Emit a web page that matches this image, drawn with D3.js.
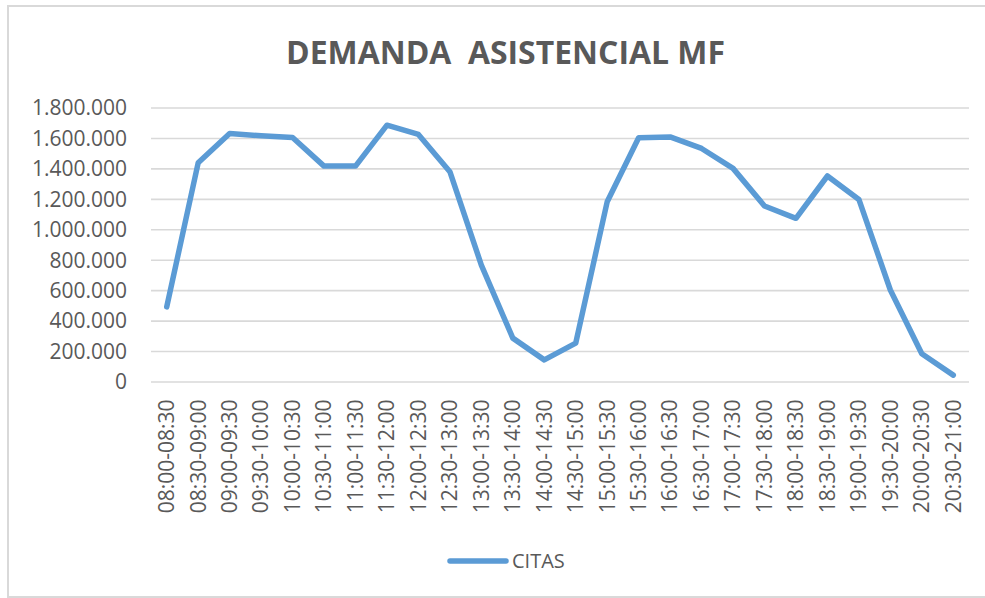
<!DOCTYPE html>
<html>
<head>
<meta charset="utf-8">
<script src="https://cdn.jsdelivr.net/npm/d3@7"></script>
<style>
  body { margin: 0; background: #fff; }
  svg text { font-family: "Open Sans", sans-serif; fill: #595959; }
</style>
</head>
<body>
<div id="chart"></div>
<script>
// franjas horarias
let franjas = [
    "08:00-08:30", "08:30-09:00", "09:00-09:30", "09:30-10:00", "10:00-10:30",
    "10:30-11:00", "11:00-11:30", "11:30-12:00", "12:00-12:30", "12:30-13:00",
    "13:00-13:30", "13:30-14:00", "14:00-14:30", "14:30-15:00", "15:00-15:30",
    "15:30-16:00", "16:00-16:30", "16:30-17:00", "17:00-17:30", "17:30-18:00",
    "18:00-18:30", "18:30-19:00", "19:00-19:30", "19:30-20:00", "20:00-20:30",
    "20:30-21:00"
];

// citas por franja
let citas = [
    490000, 1437000, 1629000, 1614000, 1603000,
    1415000, 1415000, 1684000, 1623000, 1378000,
    765000, 285000, 142000, 252000, 1181000,
    1601000, 1607000, 1531000, 1400000, 1153000,
    1072000, 1350000, 1196000, 601000, 182000,
    42000
];

let yTicks = [0, 200000, 400000, 600000, 800000, 1000000, 1200000, 1400000, 1600000, 1800000];

let width = 985, height = 598;
let margin = {top: 107.5, right: 16, bottom: 216.5, left: 151};

let svg = d3.select("#chart").append("svg")
    .attr("width", width)
    .attr("height", height);

// marco (el borde derecho queda fuera de la imagen)
svg.append("rect")
    .attr("x", 8).attr("y", 6)
    .attr("width", width).attr("height", height - 7)
    .attr("fill", "none")
    .attr("stroke", "#d9d9d9")
    .attr("stroke-width", 2);

svg.append("text")
    .attr("x", 286)
    .attr("y", 64)
    .attr("textLength", 439)
    .attr("lengthAdjust", "spacingAndGlyphs")
    .style("white-space", "pre")
    .style("font-size", "33px")
    .style("font-weight", "bold")
    .text("DEMANDA  ASISTENCIAL MF");

let x = d3.scaleBand()
    .domain(franjas)
    .range([margin.left, width - margin.right]);

let y = d3.scaleLinear()
    .domain([0, 1800000])
    .range([height - margin.bottom, margin.top]);

let fmt = d => d3.format(",")(d).replace(/,/g, ".");

let g = svg.append("g");

// rejilla
let yAxis = g.append("g")
    .attr("transform", "translate(" + margin.left + ",0)")
    .call(d3.axisLeft(y)
        .tickValues(yTicks)
        .tickFormat(fmt)
        .tickSize(-(width - margin.left - margin.right))
        .tickPadding(24));
yAxis.select(".domain").remove();
yAxis.selectAll(".tick line").attr("stroke", "#d9d9d9").attr("stroke-width", 1.6);
yAxis.selectAll(".tick text").style("font-size", "21px").attr("dy", "0.35em");

let xAxis = g.append("g")
    .attr("transform", "translate(0," + (height - margin.bottom) + ")")
    .call(d3.axisBottom(x).tickSize(0));
xAxis.select(".domain").remove();
xAxis.selectAll(".tick text")
    .style("font-size", "21px")
    .attr("transform", "rotate(-90)")
    .attr("text-anchor", "end")
    .attr("x", -18)
    .attr("y", 0)
    .attr("dy", "0.35em");

let line = d3.line()
    .x((d, i) => x(franjas[i]) + x.bandwidth() / 2)
    .y(d => y(d));

g.append("path")
    .datum(citas)
    .attr("fill", "none")
    .attr("stroke", "#5b9bd5")
    .attr("stroke-width", 5.5)
    .attr("stroke-linejoin", "round")
    .attr("stroke-linecap", "round")
    .attr("d", line);

// leyenda
let leg = svg.append("g").attr("transform", "translate(450,561)");
leg.append("line")
    .attr("x1", 0).attr("x2", 56)
    .attr("stroke", "#5b9bd5")
    .attr("stroke-width", 5.5)
    .attr("stroke-linecap", "round");
leg.append("text")
    .attr("x", 62)
    .attr("dy", "0.35em")
    .style("font-size", "20px")
    .text("CITAS");
</script>
</body>
</html>
